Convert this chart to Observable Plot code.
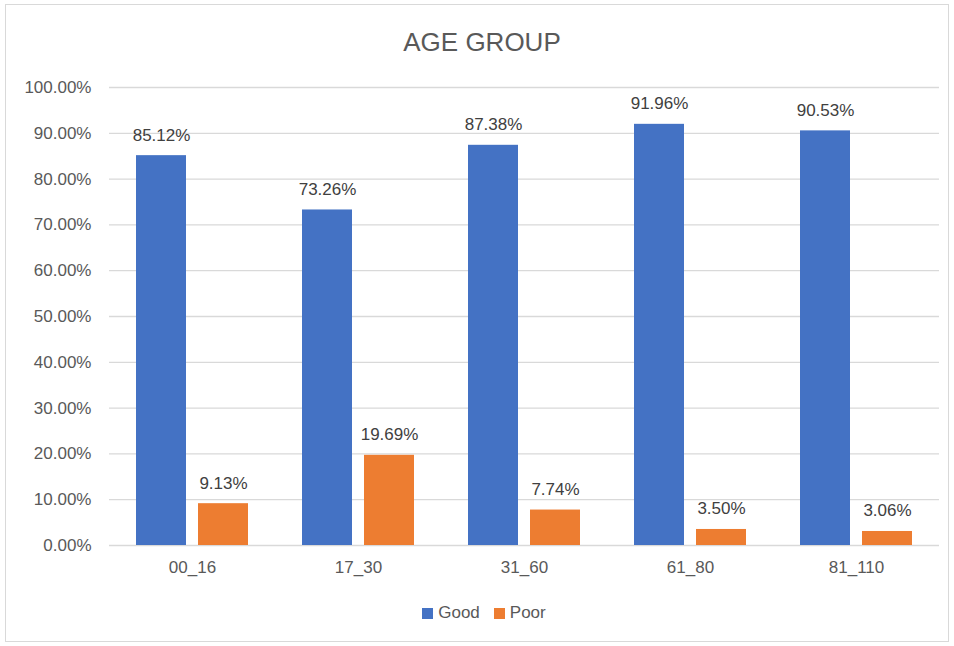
<!DOCTYPE html>
<html>
<head>
<meta charset="utf-8">
<script src="https://cdn.jsdelivr.net/npm/d3@7"></script>
<script src="https://cdn.jsdelivr.net/npm/@observablehq/plot@0.6"></script>
<style>
  html, body { margin: 0; padding: 0; background: #fff; }
  body { width: 954px; height: 646px; position: relative; overflow: hidden;
         font-family: "Liberation Sans", "DejaVu Sans", sans-serif; }
  #frame { position: absolute; left: 5px; top: 4px; width: 944px; height: 638px;
           border: 1px solid #d9d9d9; box-sizing: border-box; }
  #title { position: absolute; left: 5px; top: 24px; width: 954px; text-align: center;
           font-size: 26px; color: #595959; line-height: 36px; }
  #chart { position: absolute; left: 0; top: 60px; }
  #legend { position: absolute; left: 7px; top: 603px; width: 954px; display: flex;
            justify-content: center; align-items: center; font-size: 17px; color: #595959; }
  .sw { width: 11px; height: 11px; display: inline-block; margin-right: 5px; }
  .item { display: flex; align-items: center; margin: 0 7px; }
</style>
</head>
<body>
<div id="frame"></div>
<div id="title">AGE GROUP</div>
<div id="chart"></div>
<div id="legend"></div>
<script>
// Share of each age group rated Good or Poor
const ageGroups = ["00_16", "17_30", "31_60", "61_80", "81_110"];
const series = ["Good", "Poor"];
const goodValues = [0.8512, 0.7326, 0.8738, 0.9196, 0.9053];
const poorValues = [0.0913, 0.1969, 0.0774, 0.0350, 0.0306];
const yTicks = [0, 0.1, 0.2, 0.3, 0.4, 0.5, 0.6, 0.7, 0.8, 0.9, 1.0];
const colors = ["#4472C4", "#ED7D31"];

const rows = ageGroups.flatMap((g, i) => [
  {group: g, series: "Good", value: goodValues[i]},
  {group: g, series: "Poor", value: poorValues[i]}
]);

const pct = d3.format(".2%");

const chart = Plot.plot({
  width: 954,
  height: 525,
  marginLeft: 108,
  marginRight: 14,
  marginTop: 27,
  marginBottom: 40,
  style: {fontFamily: "Liberation Sans, DejaVu Sans, sans-serif", fontSize: "17px", color: "#595959", background: "transparent"},
  fx: {domain: ageGroups, padding: 0, axis: "bottom", label: null, tickSize: 0, tickPadding: 15},
  x: {domain: series, axis: null, paddingInner: 0.2, paddingOuter: 0.43},
  y: {domain: [0, 1], ticks: yTicks, tickFormat: pct, label: null, tickSize: 0, tickPadding: 18},
  color: {domain: series, range: colors},
  facet: {data: rows, x: "group"},
  marks: [
    Plot.ruleY(yTicks, {stroke: "#d9d9d9", strokeWidth: 1.3}),
    Plot.barY(rows, {x: "series", y: "value", fill: "series"}),
    Plot.text(rows, {x: "series", y: "value", text: d => pct(d.value), lineAnchor: "bottom",
                     dy: -15, fill: "#404040", fontSize: 17})
  ]
});
document.getElementById("chart").appendChild(chart);

const legend = document.getElementById("legend");
series.forEach((s, i) => {
  const item = document.createElement("span");
  item.className = "item";
  const sw = document.createElement("span");
  sw.className = "sw";
  sw.style.background = colors[i];
  item.appendChild(sw);
  item.appendChild(document.createTextNode(s));
  legend.appendChild(item);
});
</script>
</body>
</html>
